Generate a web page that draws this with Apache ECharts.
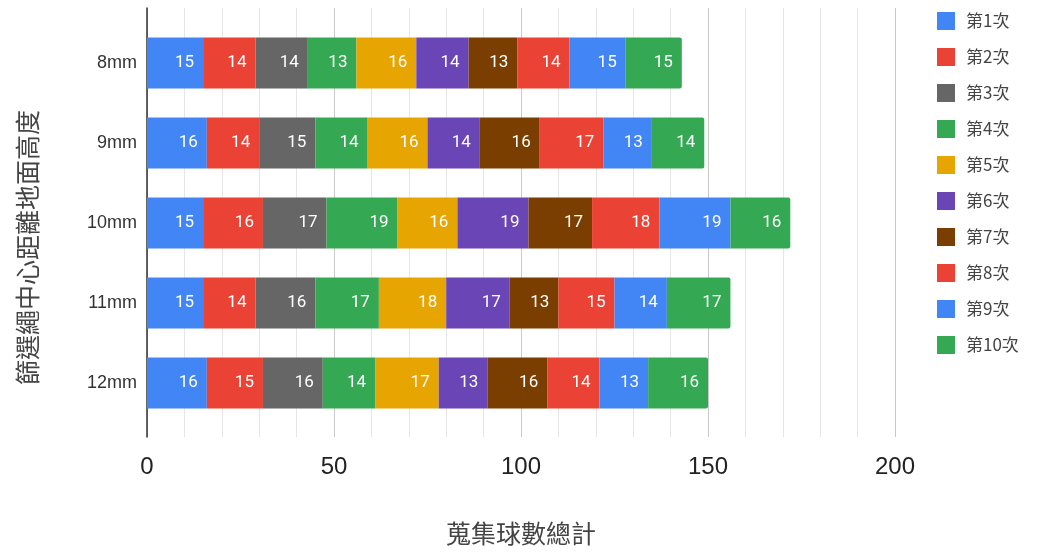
<!DOCTYPE html>
<html>
<head>
<meta charset="utf-8">
<script src="https://cdn.jsdelivr.net/npm/echarts@6/dist/echarts.min.js"></script>
<style>
  html, body { margin: 0; padding: 0; background: #fff; }
  #chart { width: 1037px; height: 554px; }
</style>
</head>
<body>
<div id="chart"></div>
<script>
// heights of the sieve rope, top to bottom
const categories = ['8mm', '9mm', '10mm', '11mm', '12mm']
const seriesNames = ['第1次', '第2次', '第3次', '第4次', '第5次', '第6次', '第7次', '第8次', '第9次', '第10次']
const colors = ['#4285F4', '#EA4335', '#666666', '#34A853', '#E6A500', '#6A45B5', '#7A3F00', '#EA4335', '#4285F4', '#34A853']

// one array per run, values for 8mm..12mm
const run1 = [15, 16, 15, 15, 16]
const run2 = [14, 14, 16, 14, 15]
const run3 = [14, 15, 17, 16, 16]
const run4 = [13, 14, 19, 17, 14]
const run5 = [16, 16, 16, 18, 17]
const run6 = [14, 14, 19, 17, 13]
const run7 = [13, 16, 17, 13, 16]
const run8 = [14, 17, 18, 15, 14]
const run9 = [15, 13, 19, 14, 13]
const run10 = [15, 14, 16, 17, 16]
const runs = [run1, run2, run3, run4, run5, run6, run7, run8, run9, run10]

const xTicks = [0, 50, 100, 150, 200]

const series = runs.map((data, i) => ({
  name: seriesNames[i],
  type: 'bar',
  stack: 'total',
  xAxisIndex: 1,
  yAxisIndex: 1,
  barWidth: 51,
  data: data,
  itemStyle: {
    color: colors[i],
    borderRadius: i === runs.length - 1 ? [0, 2, 2, 0] : 0
  },
  label: {
    show: true,
    position: 'insideRight',
    distance: 9,
    color: '#fff',
    fontSize: 17,
    fontFamily: 'Roboto, Arial, sans-serif'
  }
}))

const chart = echarts.init(document.getElementById('chart'))
chart.setOption({
  animation: false,
  textStyle: { fontFamily: '"Noto Sans CJK TC", Roboto, sans-serif' },
  legend: {
    orient: 'vertical',
    left: 932,
    top: 7,
    itemWidth: 18,
    itemHeight: 18,
    itemGap: 18,
    icon: 'rect',
    data: seriesNames,
    textStyle: {
      fontSize: 17,
      lineHeight: 18,
      color: '#444',
      padding: [0, 0, 0, 6]
    }
  },
  grid: [
    // frame: gridlines and axis line run a bit past the bars
    { left: 147, right: 142, top: 8, bottom: 117 },
    // bars
    { left: 147, right: 142, top: 23, bottom: 131 }
  ],
  xAxis: [
    {
      gridIndex: 0,
      type: 'value',
      min: 0,
      max: 200,
      interval: 10,
      name: '蒐集球數總計',
      nameLocation: 'middle',
      nameGap: 84,
      nameTextStyle: { fontSize: 25, color: '#444' },
      axisLine: { show: false },
      axisTick: { show: false },
      axisLabel: {
        fontSize: 24,
        color: '#222',
        margin: 18,
        fontFamily: '"Liberation Sans", Arial, sans-serif',
        formatter: v => (xTicks.indexOf(v) >= 0 ? String(v) : '')
      },
      splitLine: {
        show: true,
        lineStyle: { color: ['#c8c8c8', '#e6e6e6', '#e6e6e6', '#e6e6e6', '#e6e6e6'] }
      }
    },
    {
      gridIndex: 1,
      type: 'value',
      min: 0,
      max: 200,
      show: false
    }
  ],
  yAxis: [
    {
      gridIndex: 0,
      type: 'value',
      min: 0,
      max: 1,
      name: '篩選繩中心距離地面高度',
      nameLocation: 'middle',
      nameRotate: 90,
      nameGap: 107,
      nameTextStyle: { fontSize: 25, color: '#444', padding: [0, 50, 0, 0] },
      axisLine: { show: true, lineStyle: { color: '#333', width: 1.5 } },
      axisTick: { show: false },
      axisLabel: { show: false },
      splitLine: { show: false }
    },
    {
      gridIndex: 1,
      type: 'category',
      inverse: true,
      data: categories,
      axisLine: { show: false },
      axisTick: { show: false },
      axisLabel: {
        fontSize: 18,
        color: '#333',
        margin: 10,
        fontFamily: '"Liberation Sans", Arial, sans-serif'
      }
    }
  ],
  series: series
})
</script>
</body>
</html>
